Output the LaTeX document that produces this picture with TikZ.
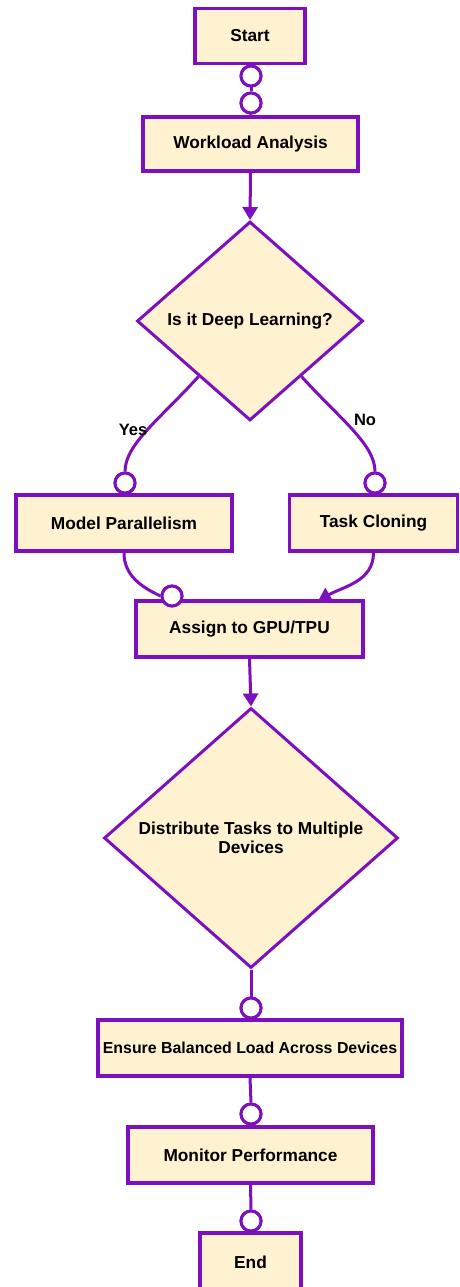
\documentclass[tikz,border=0pt]{standalone}
\usepackage{fontspec}
\setmainfont{Liberation Sans}
\usetikzlibrary{shapes.geometric,arrows.meta,calc}
\definecolor{edgepurple}{RGB}{125,15,190}
\definecolor{boxcream}{RGB}{254,242,208}
\begin{document}
\begin{tikzpicture}[x=1pt,y=-1pt,
  every node/.style={font=\fontsize{17.3}{19}\selectfont\bfseries, text=black},
  stepbox/.style={draw=edgepurple, fill=boxcream, line width=3.5pt, rectangle, inner sep=0pt},
  decision/.style={draw=edgepurple, fill=boxcream, line width=3pt, diamond, inner sep=0pt, align=center},
  knob/.style={draw=edgepurple, fill=white, line width=3pt, circle, inner sep=0pt, minimum size=20pt},
  link/.style={draw=edgepurple, line width=3pt},
  arrowlink/.style={link, -{Triangle[length=13pt,width=15pt]}},
  lbl/.style={font=\fontsize{16.5}{19}\selectfont\bfseries}
]
\useasboundingbox[fill=white] (0,0) rectangle (460,1287);

% process boxes
\node[stepbox, minimum width=110pt, minimum height=55pt] (start) at (250,36) {Start};
\node[stepbox, minimum width=215pt, minimum height=54pt] (wl) at (250.5,144) {Workload Analysis};
\node[decision, minimum width=226pt, minimum height=199pt] (d1) at (250,321) {Is it Deep Learning?};
\node[stepbox, minimum width=216pt, minimum height=56pt] (mp) at (124,523) {Model Parallelism};
\node[stepbox, minimum width=168pt, minimum height=56pt] (tc) at (373.5,523) {Task Cloning};
\node[stepbox, minimum width=227pt, minimum height=56pt] (as) at (249.5,629) {Assign to GPU/TPU};
\node[decision, minimum width=294pt, minimum height=260pt] (d2) at (251,838) {Distribute Tasks to Multiple\\Devices};
\node[stepbox, minimum width=304pt, minimum height=56pt, font=\fontsize{15.9}{19}\selectfont\bfseries] (en) at (250,1048) {Ensure Balanced Load Across Devices};
\node[stepbox, minimum width=245pt, minimum height=56pt] (mo) at (250.5,1155) {Monitor Performance};
\node[stepbox, minimum width=101pt, minimum height=58pt] (end) at (250.5,1262) {End};

% circle end markers
\node[knob] (k1) at (251,76) {};
\node[knob] (k2) at (251,103) {};
\node[knob] (ky) at (125,483) {};
\node[knob] (kn) at (375,483) {};
\node[knob] (km) at (172,596) {};
\node[knob] (ke) at (251,1008) {};
\node[knob] (kmo) at (251,1114) {};
\node[knob] (kend) at (251,1221) {};

% branch start points on the lower edges of the first decision
\coordinate (yesfrom) at ($(d1.west)!0.55!(d1.south)$);
\coordinate (nofrom) at ($(d1.east)!0.55!(d1.south)$);
\coordinate (asin) at (318,601);

% connectors
\draw[link] (start.south) -- (k1.north);
\draw[link] (k1.south) -- (k2.north);
\draw[link] (k2.south) -- (wl.north);
\draw[arrowlink] (wl.south) -- (d1.north);
\draw[link] (yesfrom) .. controls +(-39,43) and +(0,-27) .. (ky.north);
\draw[link] (nofrom) .. controls +(39,43) and +(0,-27) .. (kn.north);
\draw[link] (mp.south) to[out=-90,in=155] (km.west);
\draw[arrowlink] (tc.south) to[out=-90,in=30] (asin);
\draw[arrowlink] (as.south) -- (d2.north);
\draw[link] (d2.south) -- (ke.north);
\draw[link] (en.south) -- (kmo.north);
\draw[link] (mo.south) -- (kend.north);

% redraw markers above the lines
\foreach \k in {k1,k2,ky,kn,km,ke,kmo,kend}{
  \draw[edgepurple, line width=3pt, fill=white] (\k) circle (10pt);
}

% branch labels
\node[lbl] (yes) at (133,430) {Yes};
\node[lbl] (no) at (365,420) {No};
\end{tikzpicture}
\end{document}
